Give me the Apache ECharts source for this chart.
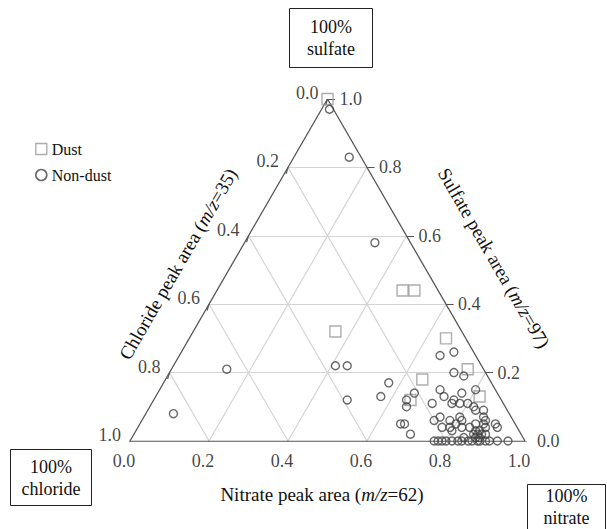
<!DOCTYPE html>
<html>
<head>
<meta charset="utf-8">
<script src="https://cdn.jsdelivr.net/npm/echarts@6/dist/echarts.min.js"></script>
<style>html,body{margin:0;padding:0;background:#fff}#c{width:607px;height:529px}</style>
</head>
<body>
<div id="c"></div>
<script>
// ---- data (ternary fractions; chloride = 1 - nitrate - sulfate) ----
var tickValues = [0.0, 0.2, 0.4, 0.6, 0.8, 1.0];
var gridValues = [0.2, 0.4, 0.6, 0.8];

var dustNitrate = [0.00, 0.47, 0.50, 0.36, 0.65, 0.75, 0.65, 0.82, 0.65];
var dustSulfate = [1.00, 0.44, 0.44, 0.32, 0.30, 0.21, 0.18, 0.13, 0.12];

var nonDustNitrate = [0.02, 0.14, 0.33, 0.14, 0.07, 0.41, 0.44, 0.49, 0.57, 0.57,
  0.65, 0.64, 0.65, 0.71, 0.66, 0.71, 0.69, 0.72, 0.75, 0.73,
  0.76, 0.77, 0.80, 0.78, 0.80, 0.82, 0.83, 0.85, 0.75, 0.66,
  0.67, 0.70, 0.77, 0.79, 0.82, 0.84, 0.85, 0.87, 0.90, 0.91,
  0.80, 0.81, 0.86, 0.87, 0.87, 0.88, 0.86, 0.87, 0.88, 0.89,
  0.86, 0.87, 0.77, 0.78, 0.79, 0.80, 0.815, 0.83, 0.84, 0.856,
  0.866, 0.88, 0.886, 0.90, 0.91, 0.93, 0.957, 0.76, 0.80, 0.74,
  0.78, 0.80, 0.88, 0.84];
var nonDustSulfate = [0.97, 0.83, 0.58, 0.21, 0.08, 0.22, 0.22, 0.12, 0.17, 0.13,
  0.14, 0.12, 0.10, 0.11, 0.25, 0.15, 0.26, 0.20, 0.19, 0.13,
  0.12, 0.14, 0.15, 0.11, 0.11, 0.10, 0.09, 0.09, 0.07, 0.05,
  0.05, 0.02, 0.04, 0.04, 0.04, 0.04, 0.05, 0.05, 0.05, 0.04,
  0.05, 0.06, 0.07, 0.06, 0.02, 0.02, 0.03, 0.03, 0.01, 0.02,
  0.02, 0.01, 0.00, 0.00, 0.00, 0.00, 0.00, 0.00, 0.00, 0.00,
  0.00, 0.00, 0.00, 0.00, 0.00, 0.00, 0.00, 0.11, 0.07, 0.06,
  0.06, 0.03, 0.04, 0.01];

// ---- ternary -> cartesian ----
var SQ = Math.sqrt(3) / 2;
function tern(n, s) { return [n + s / 2, s * SQ]; }

var FONT = '"Liberation Serif", "Times New Roman", serif';

function pts(ns, ss) {
  var out = [];
  for (var i = 0; i < ns.length; i++) out.push(tern(ns[i], ss[i]));
  return out;
}

// grid lines
var gridLines = [];
gridValues.forEach(function (t) {
  gridLines.push({ coords: [tern(0, t), tern(1 - t, t)] });       // constant sulfate
  gridLines.push({ coords: [tern(t, 0), tern(t, 1 - t)] });       // constant nitrate
  gridLines.push({ coords: [tern(0, 1 - t), tern(1 - t, 0)] });   // constant chloride
});
var edges = [
  { coords: [tern(0, 0), tern(1, 0)] },
  { coords: [tern(1, 0), tern(0, 1)] },
  { coords: [tern(0, 1), tern(0, 0)] }
];
var TL = 0.016;
var ticks = [];
tickValues.forEach(function (t) {
  var b = tern(t, 0);
  ticks.push({ coords: [b, [b[0] - TL * 0.5, b[1] - TL * SQ]] });
  var r = tern(1 - t, t);
  ticks.push({ coords: [r, [r[0] + TL * 1.2, r[1]]] });
  var l = tern(0, 1 - t);
  ticks.push({ coords: [l, [l[0] - TL * 0.3, l[1] - TL]] });
});

var bottomLabels = tickValues.map(function (t) { return { value: tern(t, 0), name: t.toFixed(1) }; });
var leftLabels = tickValues.map(function (c) { return { value: tern(0, 1 - c), name: c.toFixed(1) }; });
var rightLabels = tickValues.map(function (s) { return { value: tern(1 - s, s), name: s.toFixed(1) }; });

var lblStyle = { show: true, fontFamily: FONT, fontSize: 18, color: '#111', formatter: function (p) { return p.name; } };

var chart = echarts.init(document.getElementById('c'), null, { renderer: 'svg' });

function box(x, y, w, h, lines, ty) {
  return {
    type: 'group', left: x, top: y,
    children: [
      { type: 'rect', shape: { x: 0, y: 0, width: w, height: h }, style: { fill: '#fff', stroke: '#222', lineWidth: 1 } },
      { type: 'text', x: w / 2, y: ty, style: { text: lines, fill: '#111', font: '18px ' + FONT, textAlign: 'center', textVerticalAlign: 'middle', lineHeight: 22 } }
    ]
  };
}

var option = {
  animation: false,
  backgroundColor: '#fff',
  grid: { left: 130, top: 99, width: 395, height: 342, containLabel: false },
  xAxis: { type: 'value', min: 0, max: 1, show: false },
  yAxis: { type: 'value', min: 0, max: SQ, show: false },
  legend: {
    orient: 'vertical', left: 30, top: 136, itemGap: 10, itemWidth: 11, itemHeight: 11,
    textStyle: { fontFamily: FONT, fontSize: 16, color: '#111' },
    data: [
      { name: 'Dust', icon: 'rect', itemStyle: { color: 'rgba(0,0,0,0)', borderColor: '#999', borderWidth: 1.4 } },
      { name: 'Non-dust', icon: 'circle', itemStyle: { color: 'rgba(0,0,0,0)', borderColor: '#444', borderWidth: 1.6 } }
    ]
  },
  series: [
    { type: 'lines', coordinateSystem: 'cartesian2d', data: gridLines, silent: true,
      lineStyle: { color: '#d4d4d4', width: 1.2, opacity: 1 }, z: 1 },
    { type: 'lines', coordinateSystem: 'cartesian2d', data: edges, silent: true,
      lineStyle: { color: '#555', width: 1.3, opacity: 1 }, z: 2 },
    { type: 'lines', coordinateSystem: 'cartesian2d', data: ticks, silent: true,
      lineStyle: { color: '#555', width: 1.2, opacity: 1 }, z: 2 },
    { type: 'scatter', data: bottomLabels, symbolSize: 0.1, silent: true,
      label: Object.assign({}, lblStyle, { position: 'bottom', distance: 11, offset: [-6, 0] }) },
    { type: 'scatter', data: leftLabels, symbolSize: 0.1, silent: true,
      label: Object.assign({}, lblStyle, { position: 'left', distance: 8, offset: [-1, -6] }) },
    { type: 'scatter', data: rightLabels, symbolSize: 0.1, silent: true,
      label: Object.assign({}, lblStyle, { position: 'right', distance: 12, offset: [0, 0] }) },
    { name: 'Dust', type: 'scatter', data: pts(dustNitrate, dustSulfate), symbol: 'rect', symbolSize: 11,
      itemStyle: { color: 'rgba(0,0,0,0)', borderColor: '#999', borderWidth: 1.4 }, z: 5 },
    { name: 'Non-dust', type: 'scatter', data: pts(nonDustNitrate, nonDustSulfate), symbol: 'circle', symbolSize: 8,
      itemStyle: { color: 'rgba(0,0,0,0)', borderColor: '#444', borderWidth: 1.4 }, z: 6 }
  ],
  graphic: [
    box(289, 8, 83, 59, '100%\nsulfate', 29.5),
    box(10, 449, 81, 56, '100%\nchloride', 28),
    box(527, 484, 78, 52, '100%\nnitrate', 22),
    { type: 'text', x: 322, y: 494, style: { text: 'Nitrate peak area ({i|m/z}=62)', rich: { i: { fontStyle: 'italic', fontFamily: FONT, fontSize: 19 } },
      font: '19px ' + FONT, fill: '#111', textAlign: 'center', textVerticalAlign: 'middle' } },
    { type: 'text', x: 178, y: 264, rotation: Math.PI / 3, style: { text: 'Chloride peak area ({i|m/z}=35)', rich: { i: { fontStyle: 'italic', fontFamily: FONT, fontSize: 19 } },
      font: '19px ' + FONT, fill: '#111', textAlign: 'center', textVerticalAlign: 'middle' } },
    { type: 'text', x: 494, y: 258, rotation: -Math.PI / 3, style: { text: 'Sulfate peak area ({i|m/z}=97)', rich: { i: { fontStyle: 'italic', fontFamily: FONT, fontSize: 19 } },
      font: '19px ' + FONT, fill: '#111', textAlign: 'center', textVerticalAlign: 'middle' } }
  ]
};
chart.setOption(option);
</script>
</body>
</html>
